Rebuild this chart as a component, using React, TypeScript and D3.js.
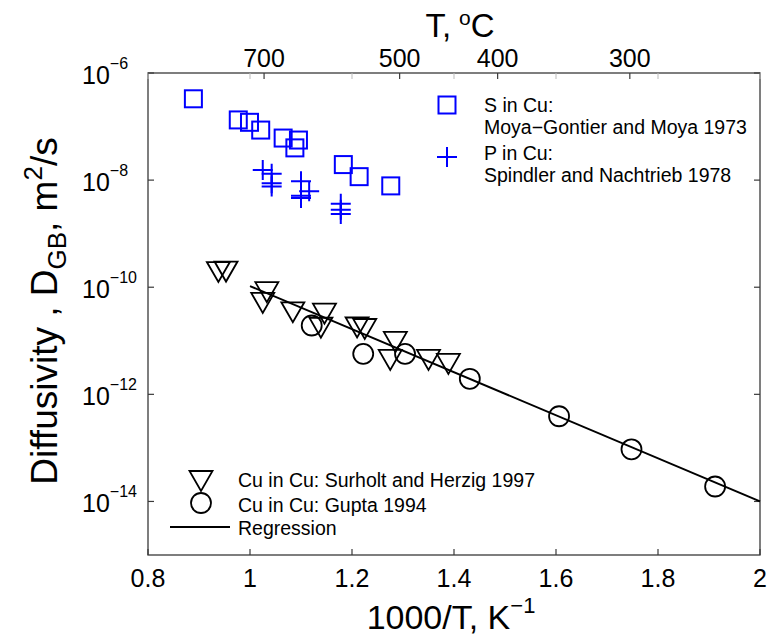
import React from "react";
import * as d3 from "d3";

// ---- data ----
const sX = [0.889, 0.977, 0.999, 1.021, 1.065, 1.095, 1.088, 1.183, 1.214, 1.276];
const sD = [3.3e-7, 1.33e-7, 1.2e-7, 8.6e-8, 6.1e-8, 5.6e-8, 4.0e-8, 1.95e-8, 1.16e-8, 7.8e-9];

const pX = [1.025, 1.0425, 1.0425, 1.0425, 1.1, 1.116, 1.1, 1.1, 1.178, 1.178, 1.178];
const pD = [1.55e-8, 1.31e-8, 8.7e-9, 7.6e-9, 9.5e-9, 6.2e-9, 5.1e-9, 4.65e-9, 3.6e-9, 2.8e-9, 2.34e-9];

const tX = [0.938, 0.953, 1.033, 1.025, 1.084, 1.146, 1.139, 1.21, 1.225, 1.285, 1.275, 1.35, 1.389];
const tD = [1.92e-10, 1.96e-10, 8.1e-11, 5.1e-11, 3.4e-11, 3.2e-11, 1.75e-11, 1.77e-11, 1.66e-11, 9.5e-12, 4.4e-12, 4.4e-12, 3.7e-12];

const cX = [1.121, 1.222, 1.304, 1.431, 1.606, 1.748, 1.912];
const cD = [1.93e-11, 5.7e-12, 5.7e-12, 1.95e-12, 3.9e-13, 9.4e-14, 1.9e-14];

const regX = [1.0, 2.0];
const regD = [1.05e-10, 1.0e-14];

const xTicks = [0.8, 1, 1.2, 1.4, 1.6, 1.8, 2];
const xTickLabels = ["0.8", "1", "1.2", "1.4", "1.6", "1.8", "2"];
const yExps = [-6, -8, -10, -12, -14];
const topCelsius = [700, 500, 400, 300];

const legendTop = ["S in Cu:", "Moya\u2212Gontier and Moya 1973", "P in Cu:", "Spindler and Nachtrieb 1978"];
const legendBottom = ["Cu in Cu: Surholt and Herzig 1997", "Cu in Cu: Gupta 1994", "Regression"];

// ---- layout ----
const W = 767, H = 638;
const L = 148, R = 760, T = 73, B = 555;
const FONT = "'Liberation Sans', Arial, Helvetica, sans-serif";
const BLUE = "#0000ff";
const AX = "#3a3a3a";

export default function App() {
  const x = d3.scaleLinear().domain([0.8, 2]).range([L, R]);
  const y = d3.scaleLog().domain([1e-15, 1e-6]).range([B, T]);

  const sq = 17, pl = 10, tw = 23, th = 20, cr = 10;
  const tri = (cx: number, cy: number) =>
    `M${cx - tw / 2},${cy - th / 2}L${cx + tw / 2},${cy - th / 2}L${cx},${cy + th / 2}Z`;

  const line = d3.line<number>().x((d, i) => x(regX[i])).y((d) => y(d));

  const tickLen = 6;

  return (
    <svg width={W} height={H} style={{ position: "absolute", left: 0, top: 0, background: "#fff" }} fontFamily={FONT}>
      <rect x={0} y={0} width={W} height={H} fill="#fff" />
      {/* box */}
      <rect x={L} y={T} width={R - L} height={B - T} fill="none" stroke={AX} strokeWidth={1.3} />

      {/* bottom ticks + mirrored top */}
      {xTicks.map((t, i) => (
        <g key={"xt" + i}>
          <line x1={x(t)} x2={x(t)} y1={B} y2={B - tickLen} stroke={AX} strokeWidth={1.2} />
          <line x1={x(t)} x2={x(t)} y1={T} y2={T + tickLen} stroke="#bbb" strokeWidth={1} />
          <text x={x(t)} y={587} fontSize={25} textAnchor="middle" fill="#000">{xTickLabels[i]}</text>
        </g>
      ))}

      {/* top celsius ticks */}
      {topCelsius.map((c) => {
        const xv = x(1000 / (c + 273.15));
        return (
          <g key={"tc" + c}>
            <line x1={xv} x2={xv} y1={T} y2={T + tickLen} stroke={AX} strokeWidth={1.2} />
            <text x={xv} y={67} fontSize={25} textAnchor="middle" fill="#000">{c}</text>
          </g>
        );
      })}

      {/* y ticks */}
      {yExps.map((e) => {
        const yv = y(Math.pow(10, e));
        return (
          <g key={"yt" + e}>
            <line x1={L} x2={L + tickLen} y1={yv} y2={yv} stroke={AX} strokeWidth={1.2} />
            <line x1={R} x2={R - tickLen} y1={yv} y2={yv} stroke={AX} strokeWidth={1.2} />
            <text x={82} y={yv + 11} fontSize={25} fill="#000">
              10
              <tspan fontSize={16} dy={-15}>{"\u2212" + Math.abs(e)}</tspan>
            </text>
          </g>
        );
      })}

      {/* titles */}
      <text x={460} y={37} fontSize={33} textAnchor="middle" fill="#000">
        T,<tspan dx={8} fontSize={21} dy={-12}>o</tspan>
        <tspan dy={12}>C</tspan>
      </text>
      <text x={451} y={629} fontSize={34} textAnchor="middle" fill="#000">
        1000/T, K<tspan fontSize={22} dy={-16}>{"\u22121"}</tspan>
      </text>
      <text transform="translate(57,311) rotate(-90)" fontSize={37} textAnchor="middle" fill="#000">
        Diffusivity , D<tspan fontSize={26} dy={9}>GB</tspan>
        <tspan dy={-9}>, m</tspan>
        <tspan fontSize={26} dy={-15}>2</tspan>
        <tspan dy={15}>/s</tspan>
      </text>

      {/* regression */}
      <path d={line(regD) || ""} fill="none" stroke="#000" strokeWidth={2} />

      {/* squares */}
      {sX.map((xv, i) => (
        <rect key={"s" + i} x={x(xv) - sq / 2} y={y(sD[i]) - sq / 2} width={sq} height={sq} fill="none" stroke={BLUE} strokeWidth={2} />
      ))}
      {/* pluses */}
      {pX.map((xv, i) => (
        <path key={"p" + i} d={`M${x(xv) - pl},${y(pD[i])}H${x(xv) + pl}M${x(xv)},${y(pD[i]) - pl}V${y(pD[i]) + pl}`} stroke={BLUE} strokeWidth={2} fill="none" />
      ))}
      {/* triangles */}
      {tX.map((xv, i) => (
        <path key={"t" + i} d={tri(x(xv), y(tD[i]))} fill="none" stroke="#000" strokeWidth={1.8} />
      ))}
      {/* circles */}
      {cX.map((xv, i) => (
        <circle key={"c" + i} cx={x(xv)} cy={y(cD[i])} r={cr} fill="none" stroke="#000" strokeWidth={1.8} />
      ))}

      {/* legend top */}
      <rect x={447 - sq / 2} y={105 - sq / 2} width={sq} height={sq} fill="none" stroke={BLUE} strokeWidth={2} />
      <path d={`M${447 - pl},157H${447 + pl}M447,${157 - pl}V${157 + pl}`} stroke={BLUE} strokeWidth={2} />
      {legendTop.map((s, i) => (
        <text key={"lt" + i} x={484} y={[112, 134, 160, 182][i]} fontSize={19.5} fill="#000">{s}</text>
      ))}

      {/* legend bottom */}
      <path d={tri(201, 481)} fill="none" stroke="#000" strokeWidth={1.8} />
      <circle cx={201} cy={503} r={cr} fill="none" stroke="#000" strokeWidth={1.8} />
      <line x1={170} x2={230} y1={527} y2={527} stroke="#000" strokeWidth={2} />
      {legendBottom.map((s, i) => (
        <text key={"lb" + i} x={238} y={[487, 512, 535][i]} fontSize={19.5} fill="#000">{s}</text>
      ))}
    </svg>
  );
}
